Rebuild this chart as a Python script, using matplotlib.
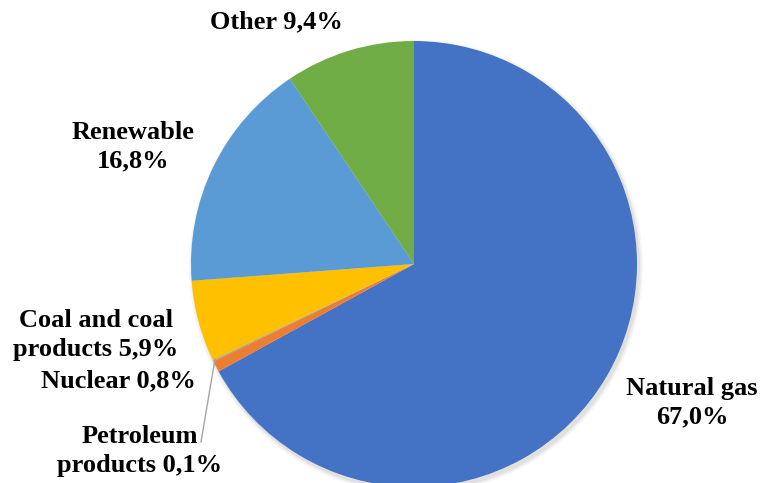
import matplotlib.pyplot as plt
from matplotlib.patches import Circle

# Data
labels = ['Natural gas', 'Nuclear', 'Petroleum\nproducts', 'Coal and coal\nproducts', 'Renewable', 'Other']
shares = [67.0, 0.8, 0.1, 5.9, 16.8, 9.4]
colors = ['#4472C4', '#ED7D31', '#A5A5A5', '#FFC000', '#5B9BD5', '#70AD47']
label_texts = ['Natural gas\n67,0%', 'Nuclear 0,8%', 'Petroleum\nproducts 0,1%',
               'Coal and coal\nproducts 5,9%', 'Renewable\n16,8%', 'Other 9,4%']

W, H = 764, 483
fig = plt.figure(figsize=(W / 100, H / 100), dpi=100)
ax = fig.add_axes([0, 0, 1, 1])

cx, cy, r = 414, H - 264, 223

# soft shadow
for i, a in enumerate([0.05, 0.04, 0.03]):
    ax.add_patch(Circle((cx + 2, cy - 3), r + 1 + i * 1.5, color='black', alpha=a, lw=0, zorder=0))

ax.pie(shares, colors=colors, startangle=90, counterclock=False,
       center=(cx, cy), radius=r, frame=True,
       wedgeprops=dict(linewidth=0, zorder=2))
ax.set_xlim(0, W)
ax.set_ylim(0, H)
ax.set_aspect('equal')
ax.axis('off')

font = dict(family='Liberation Serif', weight='bold', fontsize=19, color='black',
            ha='center', va='center', linespacing=1.3)
pos = [(692, 403), (118, 381), (140, 451), (96, 335), (133, 147), (276, 22)]
for t, (x, y) in zip(label_texts, pos):
    ax.text(x, H - y, t, **font)

# leader line for petroleum
ax.plot([215, 201], [H - 359, H - 442], color='#A5A5A5', lw=1, zorder=3)

fig.savefig('out.png', dpi=100)
